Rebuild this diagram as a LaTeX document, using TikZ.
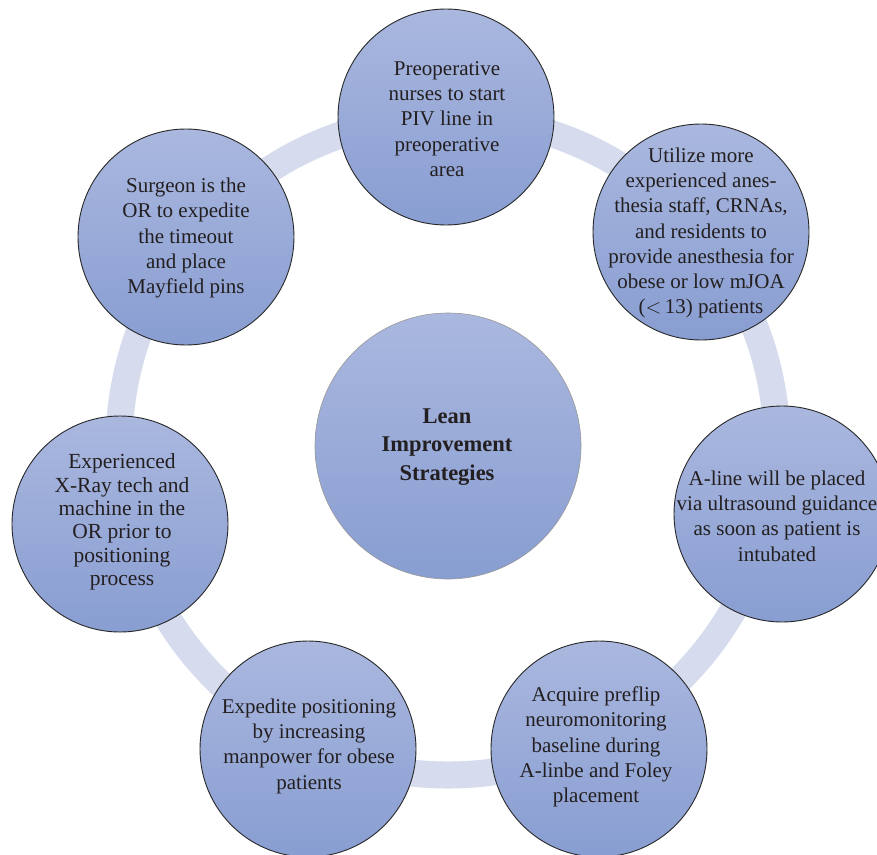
\documentclass[tikz,border=0pt]{standalone}
\usepackage{fontspec}
\setmainfont{Liberation Serif}
\definecolor{ringc}{RGB}{214,220,238}
\definecolor{topc}{RGB}{170,184,223}
\definecolor{botc}{RGB}{136,157,209}
\definecolor{txtc}{RGB}{35,31,32}
\definecolor{edgec}{RGB}{40,40,40}
\tikzset{
  bubble/.style={circle, inner sep=0pt, minimum size=216pt, draw=edgec, line width=0.9pt,
    top color=topc, bottom color=botc},
  hub/.style={circle, inner sep=0pt, minimum size=266pt, draw=gray!80, line width=0.6pt,
    top color=topc, bottom color=botc},
  ringband/.style={circle, inner sep=0pt, minimum size=658pt, draw=ringc, line width=27pt},
  txt/.style={align=center, text=txtc, inner sep=0pt, font=\fontsize{21}{25.3}\selectfont},
  hubtxt/.style={align=center, text=txtc, inner sep=0pt, font=\fontsize{22.5}{28.7}\selectfont\bfseries},
}
\begin{document}
\begin{tikzpicture}[x=1pt,y=-1pt]
\useasboundingbox (0,0) rectangle (877,854);
\clip (0,0) rectangle (877,854);
\fill[white] (0,0) rectangle (877,854);
\node[ringband] (ring) at (448,446) {};
\node[hub] (hub) at (448,446) {};
\node[hubtxt] (hubt) at (447,447) {Lean\\Improvement\\Strategies};

\node[bubble] (b1) at (446,117) {};
\node[txt] (t1) at (447,119) {Preoperative\\nurses to start\\PIV line in\\preoperative\\area};

\node[bubble] (b2) at (701,232) {};
\node[txt] (t2) at (701,233) {Utilize more\\experienced anes-\\thesia staff, CRNAs,\\and residents to\\provide anesthesia for\\obese or low mJOA\\(${<}\,$13) patients};

\node[bubble] (b3) at (782,514) {};
\node[txt] (t3) at (777,516) {A-line will be placed\\via ultrasound guidance\\as soon as patient is\\intubated};

\node[bubble] (b4) at (599,749) {};
\node[txt] (t4) at (596,747) {Acquire preflip\\neuromonitoring\\baseline during\\A-linbe and Foley\\placement};

\node[bubble] (b5) at (308,749) {};
\node[txt] (t5) at (309,746) {Expedite positioning\\by increasing\\manpower for obese\\patients};

\node[bubble] (b6) at (120,524) {};
\node[txt, font=\fontsize{21.5}{23.3}\selectfont] (t6) at (122,522) {Experienced\\X-Ray tech and\\machine in the\\OR prior to\\positioning\\process};

\node[bubble] (b7) at (186,237) {};
\node[txt] (t7) at (186,238) {Surgeon is the\\OR to expedite\\the timeout\\and place\\Mayfield pins};
\end{tikzpicture}
\end{document}
